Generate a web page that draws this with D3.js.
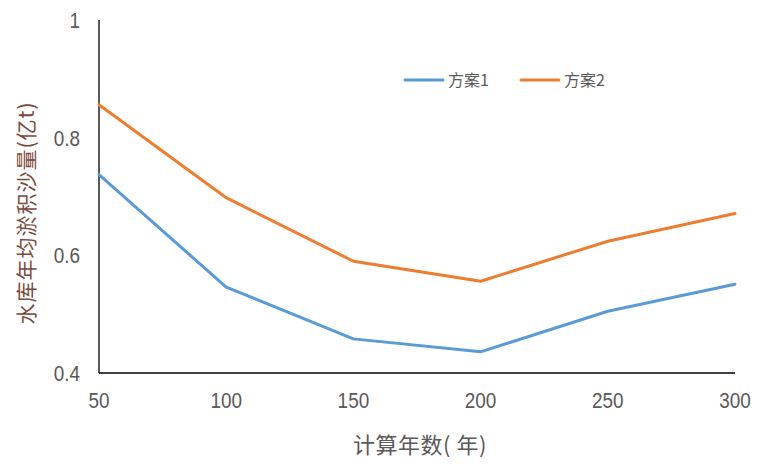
<!DOCTYPE html>
<html>
<head>
<meta charset="utf-8">
<script src="https://cdn.jsdelivr.net/npm/d3@7"></script>
<style>
  html, body { margin: 0; padding: 0; background: #fff; }
  svg { display: block; }
</style>
</head>
<body>
<svg id="chart" width="766" height="467"></svg>
<script>
const years = [50, 100, 150, 200, 250, 300];
const plan1 = [0.737, 0.546, 0.458, 0.436, 0.505, 0.551];
const plan2 = [0.856, 0.698, 0.590, 0.556, 0.624, 0.671];
const seriesNames = ["方案1", "方案2"];
const yTicks = [0.4, 0.6, 0.8, 1];
const xTicks = [50, 100, 150, 200, 250, 300];
const colors = ["#5B9BD5", "#ED7D31"];

const svg = d3.select("#chart");
const numFont = "'Liberation Sans', Arial, sans-serif";
const cjkFont = "'Noto Sans CJK SC', sans-serif";

const x = d3.scaleLinear().domain([50, 300]).range([99, 735]);
const y = d3.scaleLinear().domain([0.4, 1]).range([373, 20]);

// axes lines
svg.append("line").attr("x1", 99).attr("x2", 99).attr("y1", y(1)).attr("y2", y(0.4))
  .attr("stroke", "#000").attr("stroke-width", 1.3);
svg.append("line").attr("x1", 99).attr("x2", x(300)).attr("y1", y(0.4)).attr("y2", y(0.4))
  .attr("stroke", "#000").attr("stroke-width", 1.3);

// y tick labels (condensed look)
svg.append("g").selectAll("text").data(yTicks).join("text")
  .attr("transform", d => `translate(80,${y(d)}) scale(0.86,1)`)
  .attr("dy", "0.36em")
  .attr("text-anchor", "end")
  .attr("font-family", numFont).attr("font-size", 22).attr("fill", "#595959")
  .text(d => d === 1 ? "1" : d.toFixed(1));

// x tick labels
svg.append("g").selectAll("text").data(xTicks).join("text")
  .attr("transform", d => `translate(${x(d)},400) scale(0.86,1)`)
  .attr("dy", "0.36em")
  .attr("text-anchor", "middle")
  .attr("font-family", numFont).attr("font-size", 22).attr("fill", "#595959")
  .text(d => d);

// lines
const line = d3.line().x((d, i) => x(years[i])).y(d => y(d));
[plan1, plan2].forEach((s, i) => {
  svg.append("path").datum(s).attr("d", line)
    .attr("fill", "none").attr("stroke", colors[i]).attr("stroke-width", 3)
    .attr("stroke-linejoin", "round").attr("stroke-linecap", "round");
});

// legend
const legendX = [405, 521];
seriesNames.forEach((n, i) => {
  svg.append("line").attr("x1", legendX[i]).attr("x2", legendX[i] + 38)
    .attr("y1", 80).attr("y2", 80)
    .attr("stroke", colors[i]).attr("stroke-width", 3).attr("stroke-linecap", "round");
  svg.append("text").attr("x", legendX[i] + 43).attr("y", 80).attr("dy", "0.35em")
    .attr("font-family", cjkFont).attr("font-size", 16).attr("fill", "#595959")
    .text(n);
});

// x axis title
svg.append("text").attr("x", 420).attr("y", 445).attr("dy", "0.35em")
  .attr("text-anchor", "middle")
  .attr("font-family", cjkFont).attr("font-size", 22).attr("fill", "#595959")
  .attr("letter-spacing", 0.5)
  .text("计算年数( 年)");

// y axis title
svg.append("text").attr("transform", "translate(27,213) rotate(-90)")
  .attr("dy", "0.35em")
  .attr("text-anchor", "middle")
  .attr("font-family", cjkFont).attr("font-size", 21).attr("fill", "#7a4a3c")
  .attr("letter-spacing", 1)
  .text("水库年均淤积沙量(亿t)");
</script>
</body>
</html>
